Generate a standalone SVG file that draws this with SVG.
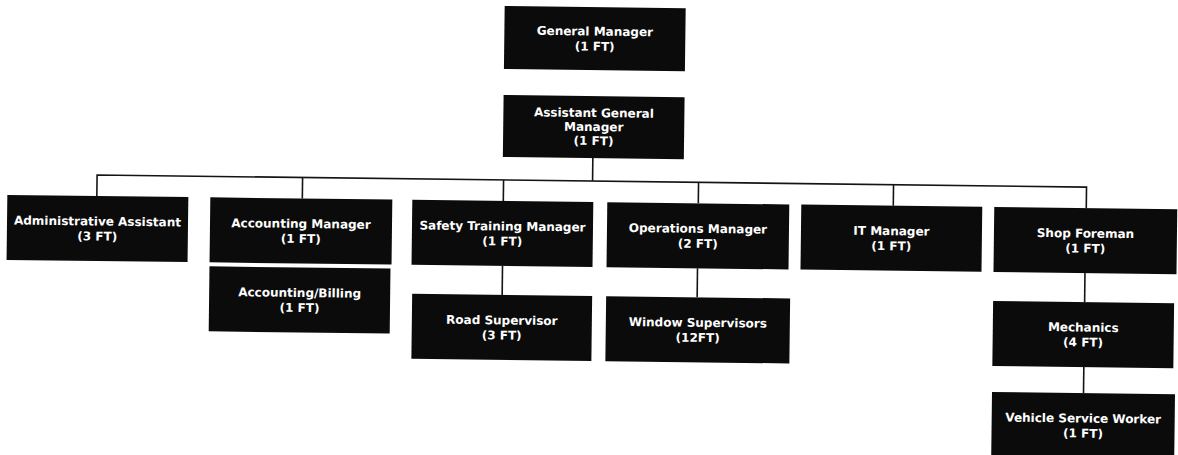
<svg xmlns="http://www.w3.org/2000/svg" width="1178" height="455" viewBox="0 0 1178 455">
  <style>
    .box { fill: #0b0b0b; }
    .lbl { fill: #ffffff; font-family: "DejaVu Sans", "Liberation Sans", sans-serif; font-weight: bold; font-size: 12px; text-anchor: middle; }
    .wire { fill: none; stroke: #141414; stroke-width: 1.6; }
  </style>
  <rect width="1178" height="455" fill="#ffffff"/>
  <!-- the whole chart sits on a slight clockwise tilt -->
  <g transform="rotate(0.7 589 227)">
    <g id="connectors">
      <path class="wire" d="M592 158 V181"/>
      <path class="wire" d="M96.5 202 V181 H1086 V202"/>
      <path class="wire" d="M302 181 V202"/>
      <path class="wire" d="M503 181 V202"/>
      <path class="wire" d="M698 181 V202"/>
      <path class="wire" d="M893 181 V202"/>
      <path class="wire" d="M503 267 V296"/>
      <path class="wire" d="M698 267 V296"/>
      <path class="wire" d="M1085.5 267 V296"/>
      <path class="wire" d="M1085.5 361 V387"/>
    </g>

    <g id="general-manager">
      <rect class="box" x="502" y="7" width="181" height="63"/>
      <text class="lbl" x="592.5" y="35.5">General Manager</text>
      <text class="lbl" x="592.5" y="50.5">(1 FT)</text>
    </g>

    <g id="assistant-general-manager">
      <rect class="box" x="502" y="96" width="181" height="62"/>
      <text class="lbl" x="592.5" y="117">Assistant General</text>
      <text class="lbl" x="592.5" y="131">Manager</text>
      <text class="lbl" x="592.5" y="145">(1 FT)</text>
    </g>

    <g id="administrative-assistant">
      <rect class="box" x="7" y="202" width="181" height="65"/>
      <text class="lbl" x="97.5" y="231.5">Administrative Assistant</text>
      <text class="lbl" x="97.5" y="246.5">(3 FT)</text>
    </g>

    <g id="accounting-manager">
      <rect class="box" x="210" y="202" width="182" height="65"/>
      <text class="lbl" x="301" y="231.5">Accounting Manager</text>
      <text class="lbl" x="301" y="246.5">(1 FT)</text>
    </g>

    <g id="accounting-billing">
      <rect class="box" x="210" y="271" width="181" height="65"/>
      <text class="lbl" x="300.5" y="300.5">Accounting/Billing</text>
      <text class="lbl" x="300.5" y="315.5">(1 FT)</text>
    </g>

    <g id="safety-training-manager">
      <rect class="box" x="412" y="202" width="181" height="65"/>
      <text class="lbl" x="502.5" y="231.5">Safety Training Manager</text>
      <text class="lbl" x="502.5" y="246.5">(1 FT)</text>
    </g>

    <g id="road-supervisor">
      <rect class="box" x="413" y="296" width="180" height="65"/>
      <text class="lbl" x="503" y="325.5">Road Supervisor</text>
      <text class="lbl" x="503" y="340.5">(3 FT)</text>
    </g>

    <g id="operations-manager">
      <rect class="box" x="607" y="202" width="182" height="65"/>
      <text class="lbl" x="698" y="231.5">Operations Manager</text>
      <text class="lbl" x="698" y="246.5">(2 FT)</text>
    </g>

    <g id="window-supervisors">
      <rect class="box" x="607" y="296" width="184" height="65"/>
      <text class="lbl" x="699" y="325.5">Window Supervisors</text>
      <text class="lbl" x="699" y="340.5">(12FT)</text>
    </g>

    <g id="it-manager">
      <rect class="box" x="801" y="202" width="181" height="65"/>
      <text class="lbl" x="891.5" y="231.5">IT Manager</text>
      <text class="lbl" x="891.5" y="246.5">(1 FT)</text>
    </g>

    <g id="shop-foreman">
      <rect class="box" x="994" y="202" width="183" height="65"/>
      <text class="lbl" x="1085.5" y="231.5">Shop Foreman</text>
      <text class="lbl" x="1085.5" y="246.5">(1 FT)</text>
    </g>

    <g id="mechanics">
      <rect class="box" x="994" y="296" width="181" height="65"/>
      <text class="lbl" x="1084.5" y="325.5">Mechanics</text>
      <text class="lbl" x="1084.5" y="340.5">(4 FT)</text>
    </g>

    <g id="vehicle-service-worker">
      <rect class="box" x="994" y="387" width="183" height="65"/>
      <text class="lbl" x="1085.5" y="416.5">Vehicle Service Worker</text>
      <text class="lbl" x="1085.5" y="431.5">(1 FT)</text>
    </g>
  </g>
</svg>
